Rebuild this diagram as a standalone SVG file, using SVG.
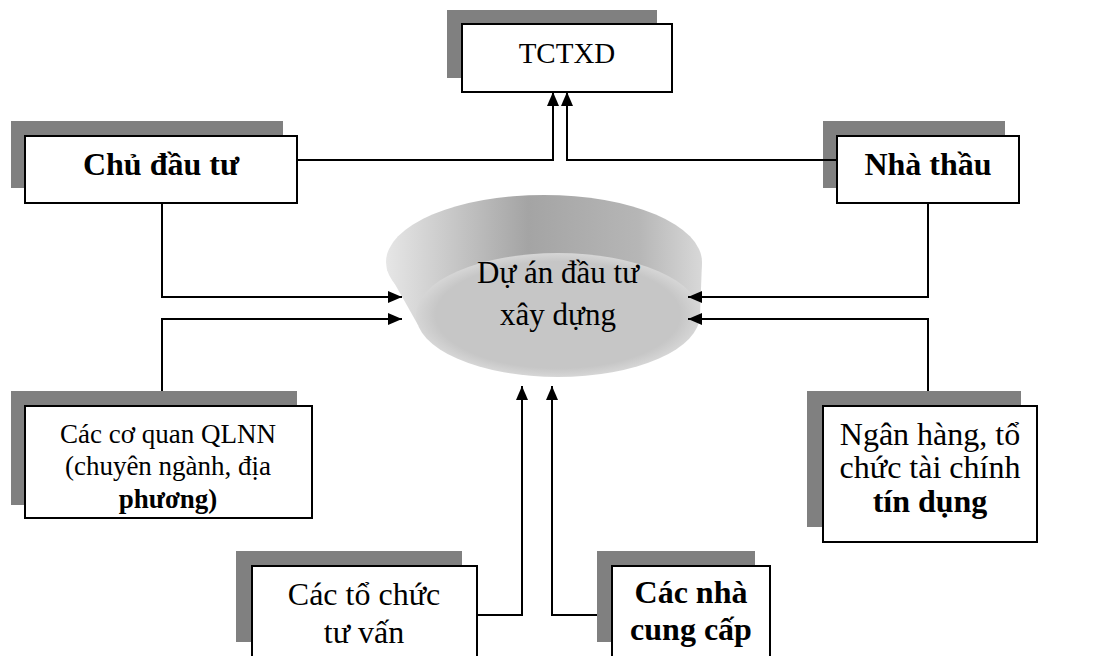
<svg xmlns="http://www.w3.org/2000/svg" width="1108" height="656" viewBox="0 0 1108 656">
<style>
.sh{fill:#808080;stroke:none}
.bx{fill:#ffffff;stroke:#000000;stroke-width:2}
.t{font-family:"Liberation Serif","Times New Roman",serif;fill:#000000;text-anchor:middle}
.b{font-weight:bold}
.c{fill:none;stroke:#000000;stroke-width:2;marker-end:url(#ah)}
</style>
<defs>
<marker id="ah" viewBox="0 0 14 12" refX="14" refY="6" markerWidth="14" markerHeight="12" orient="auto" markerUnits="userSpaceOnUse">
<path d="M0,0 L14,6 L0,12 z" fill="#000000"/>
</marker>
<linearGradient id="side" gradientUnits="userSpaceOnUse" x1="386" y1="0" x2="702" y2="0">
<stop offset="0" stop-color="#e6e6e6"/>
<stop offset="0.45" stop-color="#a4a4a4"/>
<stop offset="0.8" stop-color="#b6b6b6"/>
<stop offset="1" stop-color="#d8d8d8"/>
</linearGradient>
<radialGradient id="face" cx="0.5" cy="0.5" r="0.5">
<stop offset="0.86" stop-color="#c6c6c6"/>
<stop offset="1" stop-color="#d6d6d6"/>
</radialGradient>
</defs>

<g id="tctxd">
<rect class="sh" x="447" y="10" width="210" height="68"/>
<rect class="bx" x="462" y="24" width="210" height="68"/>
<text class="t" x="567" y="63" font-size="29">TCTXD</text>
</g>

<g id="chu-dau-tu">
<rect class="sh" x="11" y="121" width="272" height="67"/>
<rect class="bx" x="25" y="136" width="272" height="67"/>
<text class="t b" x="161" y="175" font-size="32">Chủ đầu tư</text>
</g>

<g id="nha-thau">
<rect class="sh" x="823" y="121" width="182" height="67"/>
<rect class="bx" x="837" y="136" width="182" height="67"/>
<text class="t b" x="928" y="175" font-size="32">Nhà thầu</text>
</g>

<g id="du-an">
<ellipse cx="544" cy="262" rx="158" ry="67" fill="url(#side)"/>
<polygon points="387,270 418,325 558,315 544,262" fill="url(#side)"/>
<polygon points="702,262 700,315 558,315 544,262" fill="url(#side)"/>
<ellipse cx="558" cy="315" rx="142" ry="62" fill="url(#face)"/>
<text class="t" x="558" y="283" font-size="31">Dự án đầu tư</text>
<text class="t" x="558" y="325" font-size="31">xây dựng</text>
</g>

<g id="qlnn">
<rect class="sh" x="11" y="391" width="286" height="114"/>
<rect class="bx" x="25" y="406" width="287" height="112"/>
<text class="t" x="168" y="443" font-size="27">Các cơ quan QLNN</text>
<text class="t" x="168" y="475" font-size="27">(chuyên ngành, địa</text>
<text class="t b" x="168" y="508" font-size="27">phương)</text>
</g>

<g id="ngan-hang">
<rect class="sh" x="807" y="391" width="214" height="136"/>
<rect class="bx" x="823" y="406" width="214" height="136"/>
<text class="t" x="930" y="445" font-size="32">Ngân hàng, tổ</text>
<text class="t" x="930" y="478" font-size="32">chức tài chính</text>
<text class="t b" x="930" y="512" font-size="32">tín dụng</text>
</g>

<g id="tu-van">
<rect class="sh" x="236" y="551" width="226" height="91"/>
<rect class="bx" x="252" y="566" width="225" height="100"/>
<text class="t" x="364" y="605" font-size="32">Các tổ chức</text>
<text class="t" x="364" y="643" font-size="32">tư vấn</text>
</g>

<g id="nha-cung-cap">
<rect class="sh" x="597" y="551" width="158" height="91"/>
<rect class="bx" x="612" y="566" width="158" height="100"/>
<text class="t b" x="691" y="603" font-size="32">Các nhà</text>
<text class="t b" x="691" y="640" font-size="32">cung cấp</text>
</g>

<g id="connectors">
<path class="c" d="M297,160 H553 V92"/>
<path class="c" d="M837,160 H567 V92"/>
<path class="c" d="M162,203 V297 H402"/>
<path class="c" d="M162,391 V319 H402"/>
<path class="c" d="M928,203 V297 H688"/>
<path class="c" d="M928,391 V319 H688"/>
<path class="c" d="M477,615 H522 V386"/>
<path class="c" d="M597,615 H552 V386"/>
</g>
</svg>
